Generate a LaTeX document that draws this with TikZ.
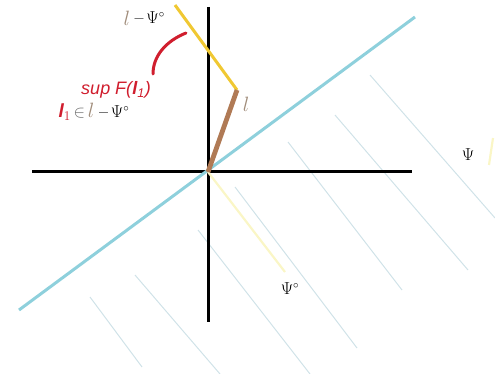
\documentclass[tikz,border=0pt]{standalone}
\usepackage{fontspec}
\usepackage{tikz}
\newfontfamily\supfont{Liberation Sans}
\usetikzlibrary{
	positioning
}
\definecolor{axiscolor}{HTML}{000000}
\definecolor{linecolor}{HTML}{8ED0DC}
\definecolor{legcolor}{HTML}{B07A55}
\definecolor{shiftcolor}{HTML}{F0C832}
\definecolor{palecolor}{HTML}{FAF6C6}
\definecolor{hatchcolor}{HTML}{D0E2E8}
\definecolor{supcolor}{HTML}{D01E2E}
\definecolor{tancolor}{HTML}{A08C7A}
\definecolor{greycolor}{HTML}{707070}
\tikzset{
	axisline/.style={
		draw=axiscolor,
		line width=3pt
	},
	boundline/.style={
		draw=linecolor,
		line width=3pt
	},
	legline/.style={
		draw=legcolor,
		line width=4.8pt
	},
	shiftline/.style={
		draw=shiftcolor,
		line width=3pt
	},
	paleline/.style={
		draw=palecolor,
		line width=2.2pt
	},
	hatchline/.style={
		draw=hatchcolor,
		line width=1pt
	},
	suparc/.style={
		draw=supcolor,
		line width=3pt,
		line cap=round
	},
	psilabel/.style={
		inner sep=0pt,
		font=\fontsize{16}{18}\selectfont
	},
	lsym/.style={
		inner sep=0pt,
		text=tancolor,
		font=\fontsize{20}{22}\selectfont
	}
}
\newcommand{\psideg}{\textbf{--}\,$\Psi^{\circ}$}
\newcommand{\boldl}{{\supfont\bfseries\itshape l}}

\begin{document}
\begin{tikzpicture}[x=1pt,y=-1pt]
		
		\useasboundingbox (0,0) rectangle (495,374);
		
		% Hatching
		\foreach \xa/\ya/\xb/\yb in {370/75/495/218, 335/115/468/270,
			288/142/402/290, 235/187/357/348, 198/230/310/374,
			135/275/220/374, 90/297/142/367}
		\draw[hatchline] (\xa,\ya) -- (\xb,\yb);
		
		% Points
		\coordinate (origin) at (208,172);
		\coordinate (legend) at (237,90);
		\coordinate (shifttop) at (175,5);
		\coordinate (psizero) at (285,272);
		
		% Axes
		\draw[axisline] (32,172) -- (412,172);
		\draw[axisline] (208,7) -- (208,322);
		
		% Lines
		\draw[boundline] (19,310) -- (415,17);
		\draw[paleline] (origin) -- (psizero);
		\draw[paleline] (493,138) -- (489,165);
		\draw[shiftline] (legend) -- (shifttop);
		\draw[legline] (origin) -- (legend);
		
		% Arc
		\coordinate (arcstart) at (186,33);
		\coordinate (arcend) at (153,74);
		\draw[suparc] (arcstart) .. controls (166,41) and (153,56) .. (arcend);
		
		% Labels
		\node[lsym] (topl) at (127,18) {$l$};
		\node[psilabel, right=4pt of topl] (toppsi) {\psideg};
		\node[lsym] (legl) at (246,104) {$l$};
		
		\node[text=supcolor, inner sep=0pt] (sup) at (116,90)
		{\supfont\fontsize{18}{20}\selectfont\itshape sup F(\boldl\textsubscript{1})};
		
		\node[inner sep=0pt, font=\fontsize{16}{18}\selectfont] (member) at (94,112)
		{{\color{supcolor}\fontsize{19}{21}\selectfont\boldl\textsubscript{1}}\,{\color{greycolor}$\in$}\,{\color{tancolor}\fontsize{20}{22}\selectfont$l$}\ \psideg};
		
		\node[psilabel] (psi) at (468,155) {$\Psi$};
		\node[psilabel] (psideg) at (290,289) {$\Psi^{\circ}$};
		
	\end{tikzpicture}
\end{document}
